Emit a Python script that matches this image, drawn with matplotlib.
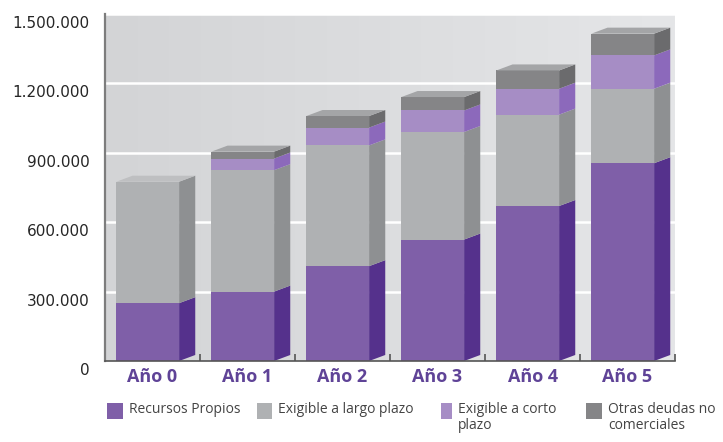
import numpy as np
import matplotlib.pyplot as plt
import matplotlib.transforms as mtransforms
from matplotlib.patches import Polygon, Rectangle
from matplotlib.colors import LinearSegmentedColormap

# Balance structure per year
years = ["Año 0", "Año 1", "Año 2", "Año 3", "Año 4", "Año 5"]
recursos_propios = [250000, 300000, 410000, 525000, 670000, 855000]
exigible_largo = [525000, 525000, 522000, 465000, 395000, 322000]
exigible_corto = [0, 50000, 77000, 93000, 112000, 144000]
otras_deudas = [0, 30000, 50000, 58000, 79000, 94000]
y_ticks = [0, 300000, 600000, 900000, 1200000, 1500000]

# (legend label, values, front colour, side colour, top colour)
series = [
    ("Recursos Propios", recursos_propios, "#7f5fa8", "#55318c", "#9a80bd"),
    ("Exigible a largo plazo", exigible_largo, "#afb1b3", "#8e9092", "#bebfc1"),
    ("Exigible a corto\nplazo", exigible_corto, "#a68dc5", "#8c69bb", "#b9a6d3"),
    ("Otras deudas no\ncomerciales", otras_deudas, "#858587", "#6b6b6d", "#a4a5a7"),
]

W, H = 723, 442
fig = plt.figure(figsize=(W / 100, H / 100), dpi=100)
ax = fig.add_axes([105 / W, 81 / H, 570 / W, 347 / H])

# soft grey background, darker on the left
bg = LinearSegmentedColormap.from_list("bg", ["#d3d4d6", "#e5e6e8"])
grad = np.linspace(0, 1, 256).reshape(1, -1)
ax.imshow(grad, extent=[-0.5, 5.5, 0, 1500000], aspect="auto", cmap=bg, zorder=0)
for v in y_ticks[1:]:
    ax.axhline(v, color="white", lw=1.8, zorder=1)

x = np.arange(len(years))
width = 0.66
shift = -0.05
dx, dy = 0.17, 26000
left = x + shift - width / 2
right = left + width
bottom = np.zeros(len(years))
top_colour = [None] * len(years)

for label, vals, front, side, top in series:
    vals = np.array(vals, dtype=float)
    ax.bar(x + shift, vals, width, bottom=bottom, color=front, linewidth=0, zorder=3)
    for i in range(len(years)):
        if vals[i] <= 0:
            continue
        y0, y1 = bottom[i], bottom[i] + vals[i]
        ax.add_patch(Polygon([(right[i], y0), (right[i] + dx, y0 + dy),
                              (right[i] + dx, y1 + dy), (right[i], y1)],
                             closed=True, facecolor=side, linewidth=0, zorder=3))
        top_colour[i] = top
    bottom += vals

# top faces
for i in range(len(years)):
    t = bottom[i]
    ax.add_patch(Polygon([(left[i], t), (left[i] + dx, t + dy),
                          (right[i] + dx, t + dy), (right[i], t)],
                         closed=True, facecolor=top_colour[i], linewidth=0, zorder=3))

ax.set_xlim(-0.5, 5.5)
ax.set_ylim(0, 1500000)

ax.set_yticks(y_ticks)
ax.set_yticklabels([f"{v:,}".replace(",", ".") for v in y_ticks],
                   fontsize=11, color="#262626", family="DejaVu Sans")
ax.tick_params(axis="y", length=0, pad=11)
offset = mtransforms.ScaledTranslation(0, -8 / 100, fig.dpi_scale_trans)
for lab in ax.get_yticklabels():
    lab.set_transform(lab.get_transform() + offset)

ax.set_xticks(x)
ax.set_xticklabels(years, fontsize=13, fontweight="bold", color="#5f4397",
                   family="Open Sans")
ax.tick_params(axis="x", which="major", length=0, pad=5)
ax.set_xticks(np.arange(-0.5, 6, 1), minor=True)
ax.tick_params(axis="x", which="minor", direction="in", length=5,
               width=1.2, color="#555555")

for s in ["top", "right"]:
    ax.spines[s].set_visible(False)
ax.spines["left"].set_color("#7d7d7d")
ax.spines["left"].set_linewidth(1.6)
ax.spines["bottom"].set_color("#555555")
ax.spines["bottom"].set_linewidth(1.2)
ax.spines["left"].set_zorder(4)
ax.spines["bottom"].set_zorder(4)

# legend row under the chart
leg_x = [(107, 16), (257, 15), (441, 11), (586, 16)]
for (label, vals, front, side, top), (px, w) in zip(series, leg_x):
    fig.patches.append(Rectangle((px / W, 1 - 419 / H), w / W, 16 / H,
                                 transform=fig.transFigure, facecolor=front,
                                 linewidth=0))
    fig.text((px + w + 6) / W, 1 - 402 / H, label, fontsize=10, color="#444444",
             family="Open Sans", va="top", ha="left", linespacing=1.05)

fig.savefig("out.png", dpi=100)
